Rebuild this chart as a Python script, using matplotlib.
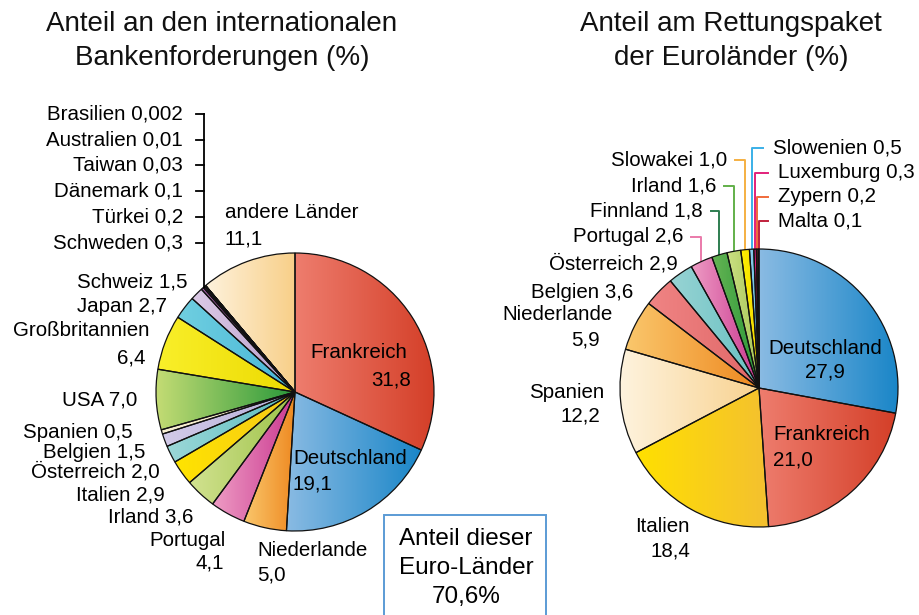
import numpy as np
import matplotlib.pyplot as plt
from matplotlib.colors import LinearSegmentedColormap

plt.rcParams['font.family'] = ['Liberation Sans', 'DejaVu Sans']

# Anteil an den internationalen Bankenforderungen (%), im Uhrzeigersinn ab 12 Uhr
bank_countries = ['Frankreich', 'Deutschland', 'Niederlande', 'Portugal', 'Irland', 'Italien',
                  'Österreich', 'Belgien', 'Spanien', 'USA', 'Großbritannien', 'Japan', 'Schweiz',
                  'Schweden', 'Türkei', 'Dänemark', 'Taiwan', 'Australien', 'Brasilien', 'andere Länder']
bank_values = [31.8, 19.1, 5.0, 4.1, 3.6, 2.9, 2.0, 1.5, 0.5, 7.0, 6.4, 2.7, 1.5,
               0.3, 0.2, 0.1, 0.03, 0.01, 0.002, 11.1]
bank_labels = ['31,8', '19,1', '5,0', '4,1', '3,6', '2,9', '2,0', '1,5', '0,5', '7,0', '6,4',
               '2,7', '1,5', '0,3', '0,2', '0,1', '0,03', '0,01', '0,002', '11,1']

# Anteil am Rettungspaket der Euroländer (%)
euro_countries = ['Deutschland', 'Frankreich', 'Italien', 'Spanien', 'Niederlande', 'Belgien',
                  'Österreich', 'Portugal', 'Finnland', 'Irland', 'Slowakei', 'Slowenien',
                  'Luxemburg', 'Zypern', 'Malta']
euro_values = [27.9, 21.0, 18.4, 12.2, 5.9, 3.6, 2.9, 2.6, 1.8, 1.6, 1.0, 0.5, 0.3, 0.2, 0.1]
euro_labels = ['27,9', '21,0', '18,4', '12,2', '5,9', '3,6', '2,9', '2,6', '1,8', '1,6',
               '1,0', '0,5', '0,3', '0,2', '0,1']

# gradient colours (left -> right) per slice
bank_colors = [('#ee7d6e', '#d43f28'), ('#8abbe3', '#1a86c8'), ('#fac76c', '#ee8820'),
               ('#ee9cc4', '#ca3890'), ('#d2e290', '#9cc248'), ('#ffe400', '#f6c818'),
               ('#9cd8d8', '#5abcc0'), ('#d2cbe8', '#b6aed8'), ('#f8f0d4', '#eee0b0'),
               ('#c4dc74', '#28983a'), ('#f9ef2a', '#ecda00'), ('#70cfe0', '#46b6d8'),
               ('#dccae6', '#b89ecc'), ('#a862aa', '#88388c'), ('#4a2058', '#301040'),
               ('#2a1838', '#1a0c28'), ('#101010', '#000000'), ('#101010', '#000000'),
               ('#101010', '#000000'), ('#fef2dc', '#f8cf88')]
euro_colors = [('#8abbe3', '#1a86c8'), ('#ee7d6e', '#d43f28'), ('#ffe000', '#f4c030'),
               ('#fef3de', '#f8d290'), ('#fac76c', '#ee8820'), ('#f08484', '#e06868'),
               ('#98d4d4', '#68c0c2'), ('#ee9cc4', '#ca3890'), ('#66b454', '#2a9838'),
               ('#cce084', '#a6c656'), ('#fff200', '#f0d400'), ('#94d2ee', '#5cb6e0'),
               ('#e2247e', '#c0105e'), ('#f26434', '#de4220'), ('#a41234', '#7c0e22')]

W, H = 920, 615


def Y(py):
    # pixel row (from top) -> data y
    return H - py


def shade(ax, wedges, pairs):
    for w, (c1, c2) in zip(wedges, pairs):
        ext = w.get_path().get_extents()
        cmap = LinearSegmentedColormap.from_list('g', [c1, c2])
        im = ax.imshow(np.linspace(0, 1, 256)[None, :], cmap=cmap, aspect='auto',
                       extent=(ext.x0, ext.x1, ext.y0, ext.y1),
                       interpolation='bilinear', zorder=1)
        im.set_clip_path(w)
        w.set_facecolor('none')
        w.set_zorder(2)


def edge_point(w, frac=0.5):
    a = np.radians(w.theta1 + frac * (w.theta2 - w.theta1))
    return w.center[0] + w.r * np.cos(a), w.center[1] + w.r * np.sin(a)


fig = plt.figure(figsize=(9.2, 6.15), dpi=100)
ax = fig.add_axes([0, 0, 1, 1])

wp = dict(edgecolor='#111111', linewidth=0.9)
lw, _ = ax.pie(bank_values, startangle=90, counterclock=False, center=(295, Y(392)),
               radius=139, wedgeprops=wp, colors=['w'] * len(bank_values))
rw, _ = ax.pie(euro_values, startangle=90, counterclock=False, center=(759, Y(388)),
               radius=139, wedgeprops=wp, colors=['w'] * len(euro_values))
shade(ax, lw, bank_colors)
shade(ax, rw, euro_colors)

fs = 14.8
ax.text(222, Y(41), 'Anteil an den internationalen\nBankenforderungen (%)', ha='center',
        va='center', fontsize=20, linespacing=1.4, color='#111111')
ax.text(731, Y(41), 'Anteil am Rettungspaket\nder Euroländer (%)', ha='center',
        va='center', fontsize=20, linespacing=1.4, color='#111111')


def lab(name, i, names, labels, x, y, ha='right', two=False, dy=26, ha2=None, x2=None):
    if two:
        ax.text(x, Y(y), names[i], ha=ha, va='center', fontsize=fs)
        ax.text(x if x2 is None else x2, Y(y + dy), labels[i], ha=ha if ha2 is None else ha2,
                va='center', fontsize=fs)
    else:
        ax.text(x, Y(y), names[i] + ' ' + labels[i], ha=ha, va='center', fontsize=fs)


bi = {n: k for k, n in enumerate(bank_countries)}
L = lambda n, *a, **k: lab(n, bi[n], bank_countries, bank_labels, *a, **k)

# tiny slices: bracket with ticks
tiny = ['Brasilien', 'Australien', 'Taiwan', 'Dänemark', 'Türkei', 'Schweden']
tiny_y = [114, 140, 165, 191, 217, 243]
ex, ey = edge_point(lw[bi['Türkei']])
ax.plot([ex, ex], [ey, Y(tiny_y[0])], color='black', lw=1.3)
for n, ty in zip(tiny, tiny_y):
    ax.plot([ex - 8, ex], [Y(ty), Y(ty)], color='black', lw=1.3)
    L(n, ex - 21, ty)

L('Schweiz', 188, 282)
L('Japan', 167, 306)
L('Großbritannien', 150, 331, two=True, dy=27, x2=146)
L('USA', 137, 400)
L('Spanien', 133, 432)
L('Belgien', 145, 452)
L('Österreich', 160, 472)
L('Italien', 165, 495)
L('Irland', 193, 517)
L('Portugal', 226, 540, two=True, dy=23, x2=224)
L('Niederlande', 257, 551, ha='left', two=True, dy=24)
L('Deutschland', 293, 458, ha='left', two=True, dy=26)
L('Frankreich', 310, 353, ha='left', two=True, dy=27, ha2='right', x2=411)
L('andere Länder', 225, 213, ha='left', two=True, dy=26)

ri = {n: k for k, n in enumerate(euro_countries)}
R = lambda n, *a, **k: lab(n, ri[n], euro_countries, euro_labels, *a, **k)

R('Deutschland', 825, 348, ha='center', two=True, dy=24)
R('Frankreich', 773, 435, ha='left', two=True, dy=25)
R('Italien', 690, 527, two=True, dy=24)
R('Spanien', 604, 392, two=True, dy=24, x2=600)
R('Niederlande', 613, 315, two=True, dy=25, x2=600)
R('Belgien', 633, 293)
R('Österreich', 678, 264)

# leader lines for small euro slices
leaders = [('Portugal', 683, 237, 'right', '#ea7aaa'), ('Finnland', 703, 211, 'right', '#2e7d50'),
           ('Irland', 716, 186, 'right', '#62b04a'), ('Slowakei', 727, 160, 'right', '#f5b042'),
           ('Slowenien', 773, 148, 'left', '#3ab0e8'), ('Luxemburg', 778, 173, 'left', '#e2207a'),
           ('Zypern', 778, 197, 'left', '#f06a3a'), ('Malta', 778, 221, 'left', '#c0203c')]
for n, tx, ty, ha, c in leaders:
    px, py = edge_point(rw[ri[n]])
    if ha == 'right':
        hx = tx + 8
    else:
        hx = tx - 10
    ax.plot([px, px, hx], [py, Y(ty), Y(ty)], color=c, lw=1.4, zorder=0.5)
    R(n, tx, ty, ha=ha)

# info box
ax.add_patch(plt.Rectangle((384, Y(640)), 162, 125, fill=False, edgecolor='#5b9bd5', lw=1.4))
ax.text(466, Y(568), 'Anteil dieser\nEuro-Länder\n70,6%', ha='center', va='center',
        fontsize=17.5, linespacing=1.4)

ax.set_xlim(0, W)
ax.set_ylim(0, H)
ax.set_aspect('auto')
ax.axis('off')
fig.savefig('out.png', dpi=100)
